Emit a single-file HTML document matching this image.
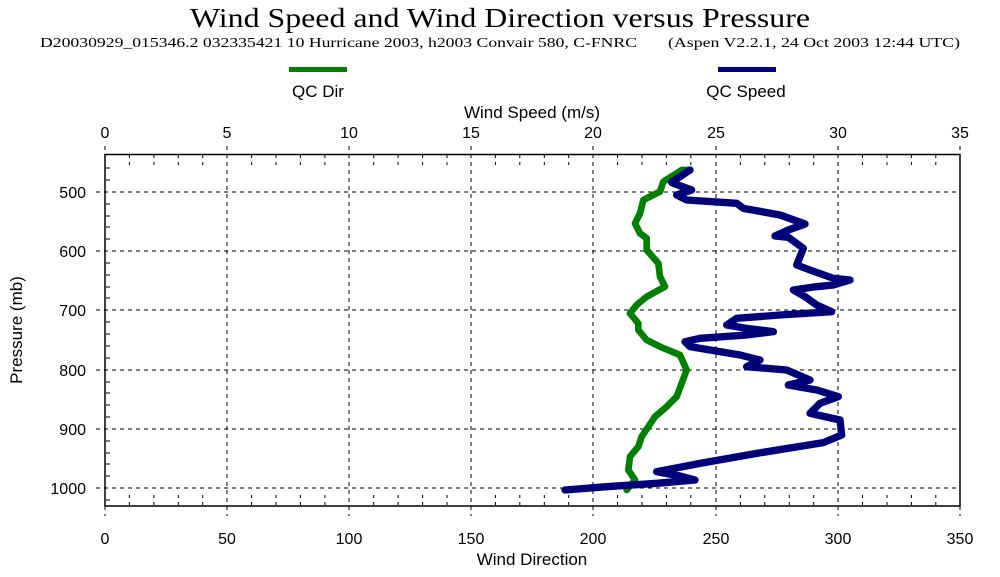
<!DOCTYPE html>
<html><head><meta charset="utf-8"><style>
body{margin:0;background:#fff;}
svg text{font-family:"Liberation Sans",sans-serif;}
</style></head><body>
<svg width="1000" height="572" viewBox="0 0 1000 572" xmlns="http://www.w3.org/2000/svg">
<rect width="1000" height="572" fill="#fff"/>
<text x="190" y="27" textLength="620" lengthAdjust="spacingAndGlyphs" style="font-family:'Liberation Serif',serif" font-size="27">Wind Speed and Wind Direction versus Pressure</text>
<text x="40" y="47" textLength="597" lengthAdjust="spacingAndGlyphs" style="font-family:'Liberation Serif',serif" font-size="14">D20030929_015346.2 032335421 10 Hurricane 2003, h2003 Convair 580, C-FNRC</text>
<text x="668" y="47" textLength="292" lengthAdjust="spacingAndGlyphs" style="font-family:'Liberation Serif',serif" font-size="14">(Aspen V2.2.1, 24 Oct 2003  12:44 UTC)</text>
<rect x="289" y="67" width="58" height="5" fill="#008000"/>
<rect x="718" y="67" width="58" height="5" fill="#000080"/>
<text x="318" y="97" text-anchor="middle" font-size="17">QC Dir</text>
<text x="746" y="97" text-anchor="middle" font-size="17">QC Speed</text>
<text x="532" y="118" text-anchor="middle" font-size="17">Wind Speed (m/s)</text>
<text x="532" y="565" text-anchor="middle" font-size="17">Wind Direction</text>
<text transform="translate(22,330) rotate(-90)" text-anchor="middle" font-size="17">Pressure (mb)</text>
<g font-size="16" text-anchor="middle">
<text x="105" y="138">0</text><text x="227" y="138">5</text><text x="349" y="138">10</text><text x="471" y="138">15</text><text x="593" y="138">20</text><text x="716" y="138">25</text><text x="838" y="138">30</text><text x="960" y="138">35</text>
<text x="105" y="544">0</text><text x="227" y="544">50</text><text x="349" y="544">100</text><text x="471" y="544">150</text><text x="593" y="544">200</text><text x="716" y="544">250</text><text x="838" y="544">300</text><text x="960" y="544">350</text>
</g>
<g font-size="16" text-anchor="end">
<text x="86" y="198">500</text><text x="86" y="257">600</text><text x="86" y="316">700</text><text x="86" y="376">800</text><text x="86" y="435">900</text><text x="86" y="494">1000</text>
</g>
<g stroke="#000" stroke-width="1" stroke-dasharray="4,4" fill="none">
<path d="M227 146V516M349 146V516M471 146V516M593 146V516M716 146V516M838 146V516M960 146V516"/>
<path d="M96 192H960M96 251H960M96 310H960M96 370H960M96 429H960M96 488H960"/>
<path d="M105 146V154M105 506V516"/>
</g>
<g stroke="#000" stroke-width="1" stroke-dasharray="3,4" fill="none">
<path d="M129.4 155v10M153.9 155v10M178.3 155v10M202.7 155v10M251.6 155v10M276 155v10M300.4 155v10M324.9 155v10M373.7 155v10M398.1 155v10M422.6 155v10M447 155v10M495.4 155v10M519.8 155v10M544.3 155v10M568.7 155v10M617.5 155v10M642 155v10M666.4 155v10M690.8 155v10M740.4 155v10M764.8 155v10M789.3 155v10M813.7 155v10M862.5 155v10M887 155v10M911.4 155v10M935.8 155v10"/>
<path d="M129.4 505v-10M153.9 505v-10M178.3 505v-10M202.7 505v-10M251.6 505v-10M276 505v-10M300.4 505v-10M324.9 505v-10M373.7 505v-10M398.1 505v-10M422.6 505v-10M447 505v-10M495.4 505v-10M519.8 505v-10M544.3 505v-10M568.7 505v-10M617.5 505v-10M642 505v-10M666.4 505v-10M690.8 505v-10M740.4 505v-10M764.8 505v-10M789.3 505v-10M813.7 505v-10M862.5 505v-10M887 505v-10M911.4 505v-10M935.8 505v-10"/>
</g>
<path d="M106 168h4M106 180h4M106 204h4M106 216h4M106 227h4M106 239h4M106 263h4M106 275h4M106 287h4M106 298h4M106 322h4M106 334h4M106 346h4M106 358h4M106 382h4M106 393h4M106 405h4M106 417h4M106 441h4M106 453h4M106 464h4M106 476h4M106 500h4" stroke="#000" stroke-width="1"/>
<rect x="105" y="154.5" width="855" height="351.5" fill="none" stroke="#000" stroke-width="1.5"/>
<g transform="translate(540,150) scale(0.33333)" fill="none" stroke-linejoin="round" stroke-linecap="round">
<path d="M450 60L425 60L370 95L360 125L310 150L300 190L285 220L300 250L320 265L320 300L355 340L360 380L375 410L320 440L290 465L270 490L295 520L295 540L320 570L360 590L420 615L440 660L425 700L410 740L380 770L345 800L325 830L305 860L295 890L270 920L265 960L285 990L260 1020" stroke="#008000" stroke-width="20"/>
<path d="M450 60L395 97L400 100L455 120L410 135L440 150L590 160L610 175L720 195L795 222L745 240L705 258L745 262L790 295L770 345L810 360L880 385L930 390L880 405L830 410L760 420L795 440L830 465L875 485L720 495L590 505L560 525L620 535L700 545L620 555L480 565L435 575L450 590L600 615L660 630L620 650L740 660L810 690L745 705L830 720L895 740L840 760L810 790L900 810L905 855L850 878L650 910L480 940L350 965L420 978L465 990L350 1000L200 1010L75 1020" stroke="#000080" stroke-width="22"/>
<path d="M450 60L395 97L400 100L455 120L410 135L440 150L590 160L610 175L720 195L795 222L745 240L705 258L745 262L790 295L770 345L810 360L880 385L930 390L880 405L830 410L760 420L795 440L830 465L875 485L720 495L590 505L560 525L620 535L700 545L620 555L480 565L435 575L450 590L600 615L660 630L620 650L740 660L810 690L745 705L830 720L895 740L840 760L810 790L900 810L905 855L850 878L650 910L480 940L350 965L420 978L465 990L350 1000L200 1010L75 1020" stroke="#000" stroke-width="3" stroke-dasharray="6,18"/>
</g>
</svg>
</body></html>
